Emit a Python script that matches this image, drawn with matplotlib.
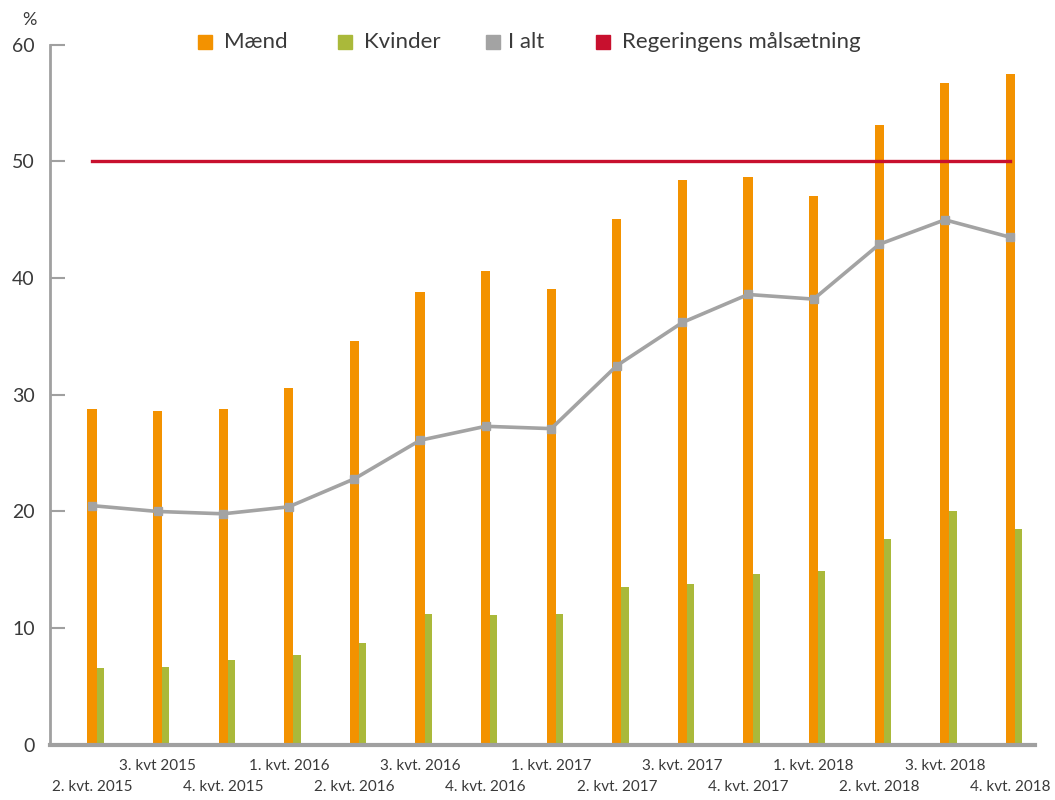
import numpy as np
import matplotlib
matplotlib.use("Agg")
from matplotlib import pyplot as plt
from matplotlib.patches import Rectangle

plt.rcParams['font.family'] = ['Lato', 'DejaVu Sans']

kvartaler = ['2. kvt. 2015', '3. kvt 2015', '4. kvt. 2015', '1. kvt. 2016',
             '2. kvt. 2016', '3. kvt. 2016', '4. kvt. 2016', '1. kvt. 2017',
             '2. kvt. 2017', '3. kvt. 2017', '4. kvt. 2017', '1. kvt. 2018',
             '2. kvt. 2018', '3. kvt. 2018', '4. kvt. 2018']
maend = [28.8, 28.6, 28.8, 30.6, 34.6, 38.8, 40.6, 39.1, 45.1, 48.4, 48.7, 47.0, 53.1, 56.7, 57.5]
kvinder = [6.6, 6.7, 7.3, 7.7, 8.7, 11.2, 11.1, 11.2, 13.5, 13.8, 14.6, 14.9, 17.6, 20.0, 18.5]
i_alt = [20.5, 20.0, 19.8, 20.4, 22.8, 26.1, 27.3, 27.1, 32.5, 36.2, 38.6, 38.2, 42.9, 45.0, 43.5]
maalsaetning = 50

orange = '#F39200'
groen = '#AAB93A'
graa = '#A3A3A3'
roed = '#C8102E'
tekst = '#3A3A3A'
akse = '#A0A0A0'

x = np.arange(len(kvartaler))

W, H = 1055, 800
fig = plt.figure(figsize=(W / 100, H / 100), dpi=100)
ax = fig.add_axes([0.0474, 0.069, 0.934, 0.875])

ax.bar(x, maend, width=0.14, color=orange, zorder=2)
ax.bar(x + 0.125, kvinder, width=0.11, color=groen, zorder=2)
ax.plot(x, i_alt, color=graa, lw=2.6, marker='s', ms=6, zorder=3)
ax.plot([x[0], x[-1]], [maalsaetning, maalsaetning], color=roed, lw=2.4, zorder=4)

ax.set_xlim(-0.64, 14.38)
ax.set_ylim(0, 60)
ax.set_yticks(range(0, 61, 10))

for s in ['top', 'right']:
    ax.spines[s].set_visible(False)
ax.spines['left'].set_color(akse)
ax.spines['left'].set_linewidth(2)
ax.spines['bottom'].set_color(akse)
ax.spines['bottom'].set_linewidth(3)

ax.tick_params(axis='y', direction='in', length=11, width=1.5, color=akse,
               labelsize=14, labelcolor=tekst, pad=11)

ax.set_xticks(x[1::2], [kvartaler[i] for i in x[1::2]])
ax.set_xticks(x[0::2], [kvartaler[i] for i in x[0::2]], minor=True)
ax.tick_params(axis='x', which='major', length=0, labelsize=11, labelcolor=tekst, pad=10)
ax.tick_params(axis='x', which='minor', length=0, labelsize=11, labelcolor=tekst, pad=25)

fig.text(0.021, 0.975, '%', fontsize=13, color=tekst, va='center', ha='left')

# legend drawn by hand so the entries sit where the reference has them
leg_labels = ['Mænd', 'Kvinder', 'I alt', 'Regeringens målsætning']
leg_colors = [orange, groen, graa, roed]
leg_box_x = [198, 338, 486, 596]
leg_text_x = [224, 364, 508, 622]
for lab, col, bx, tx in zip(leg_labels, leg_colors, leg_box_x, leg_text_x):
    fig.add_artist(Rectangle((bx / W, 1 - 49 / H), 14 / W, 14 / H,
                             transform=fig.transFigure, color=col))
    fig.text(tx / W, 1 - 42 / H, lab, fontsize=16, color=tekst, va='center', ha='left')

fig.savefig('out.png', dpi=100)
